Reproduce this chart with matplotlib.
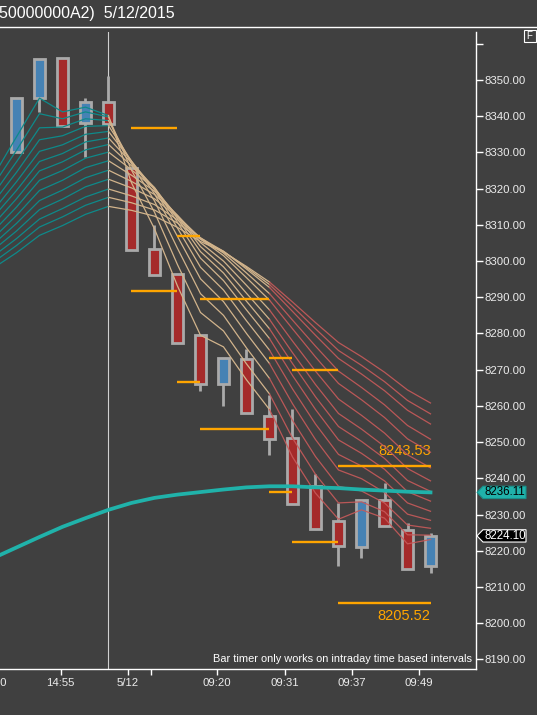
import matplotlib
matplotlib.use('Agg')
import matplotlib.pyplot as plt
import matplotlib.transforms as mtransforms
from matplotlib.patches import Rectangle, Polygon
from matplotlib.lines import Line2D

plt.rcParams['font.family'] = ['Liberation Sans', 'DejaVu Sans']

# ------------------------------------------------------------------------------
# data (bar index 0 = first visible candle)

bars = list(range(19))
opens = [8330.1, 8344.9, 8356.0, 8338.1, 8343.9, 8325.6, 8303.2, 8296.3, 8279.5, 8266.0,
         8272.9, 8257.2, 8251.2, 8237.9, 8228.2, 8221.1, 8233.9, 8225.7, 8215.9]
highs = [8345.1, 8355.7, 8356.0, 8345.0, 8351.1, 8325.6, 8310.0, 8296.3, 8279.5, 8273.1,
         8275.7, 8263.0, 8259.1, 8241.2, 8233.3, 8233.9, 8238.8, 8227.7, 8225.0]
lows = [8330.1, 8341.2, 8337.3, 8328.8, 8337.8, 8303.1, 8296.1, 8277.3, 8264.2, 8260.1,
        8258.0, 8246.4, 8232.8, 8225.9, 8215.8, 8218.1, 8226.7, 8214.9, 8213.9]
closes = [8345.1, 8355.7, 8337.3, 8343.9, 8337.8, 8303.1, 8296.1, 8277.3, 8266.0, 8273.1,
          8258.0, 8250.9, 8232.8, 8225.9, 8221.4, 8233.9, 8226.7, 8214.9, 8224.1]

# slow moving average (thick teal line), bars -1..18
ma_bars = list(range(-1, 19))
ma_vals = [8218.0, 8220.9, 8223.8, 8226.6, 8229.0, 8231.3, 8233.2, 8234.6, 8235.5, 8236.2,
           8236.9, 8237.5, 8237.8, 8237.8, 8237.5, 8237.3, 8236.9, 8236.6, 8236.3, 8236.11]

# ribbon of averages, fast to slow, bars -1..18
ribbon = [
    [8323.5, 8334.3, 8345.0, 8341.2, 8342.5, 8340.2, 8321.6, 8308.9, 8293.1, 8279.5,
     8276.3, 8267.2, 8259.0, 8245.9, 8235.9, 8228.7, 8231.3, 8229.0, 8221.9, 8223.1],
    [8321.0, 8330.6, 8340.7, 8339.3, 8341.2, 8339.8, 8325.1, 8313.5, 8299.0, 8285.8,
     8280.7, 8271.6, 8263.3, 8251.1, 8241.1, 8233.2, 8233.5, 8230.8, 8224.4, 8224.3],
    [8318.5, 8327.4, 8336.8, 8337.0, 8339.3, 8338.8, 8326.9, 8316.6, 8303.5, 8291.0,
     8285.0, 8276.0, 8267.6, 8256.0, 8246.0, 8237.8, 8236.5, 8233.2, 8227.1, 8226.2],
    [8316.3, 8324.5, 8333.5, 8334.6, 8337.2, 8337.4, 8327.6, 8318.6, 8306.8, 8295.1,
     8288.8, 8280.0, 8271.7, 8260.6, 8250.7, 8242.3, 8239.9, 8236.1, 8230.1, 8228.4],
    [8314.1, 8321.9, 8330.3, 8332.1, 8335.0, 8335.8, 8327.6, 8319.7, 8309.1, 8298.3,
     8292.0, 8283.5, 8275.4, 8264.7, 8255.0, 8246.6, 8243.4, 8239.3, 8233.2, 8230.9],
    [8312.2, 8319.5, 8327.5, 8329.7, 8332.9, 8334.0, 8327.1, 8320.2, 8310.7, 8300.8,
     8294.6, 8286.5, 8278.6, 8268.4, 8259.0, 8250.6, 8246.9, 8242.5, 8236.3, 8233.7],
    [8310.2, 8317.2, 8324.9, 8327.4, 8330.7, 8332.2, 8326.3, 8320.3, 8311.7, 8302.6,
     8296.7, 8288.9, 8281.3, 8271.7, 8262.5, 8254.3, 8250.2, 8245.5, 8239.4, 8236.4],
    [8308.3, 8314.9, 8322.3, 8325.0, 8328.4, 8330.1, 8325.2, 8320.0, 8312.3, 8304.0,
     8298.4, 8291.1, 8283.9, 8274.7, 8265.9, 8257.9, 8253.6, 8248.8, 8242.7, 8239.3],
    [8306.4, 8312.6, 8319.5, 8322.3, 8325.8, 8327.7, 8323.7, 8319.3, 8312.6, 8305.1,
     8300.0, 8293.3, 8286.5, 8277.9, 8269.6, 8261.9, 8257.4, 8252.5, 8246.5, 8242.9],
    [8304.7, 8310.4, 8316.7, 8319.6, 8323.0, 8325.1, 8322.0, 8318.4, 8312.6, 8306.1,
     8301.5, 8295.4, 8289.2, 8281.3, 8273.5, 8266.2, 8261.7, 8256.8, 8250.9, 8247.2],
    [8303.1, 8308.3, 8314.2, 8317.1, 8320.5, 8322.6, 8320.2, 8317.2, 8312.2, 8306.4,
     8302.2, 8296.7, 8291.0, 8283.7, 8276.5, 8269.6, 8265.1, 8260.3, 8254.6, 8250.8],
    [8301.4, 8306.2, 8311.6, 8314.5, 8317.7, 8319.9, 8318.0, 8315.6, 8311.4, 8306.4,
     8302.7, 8297.8, 8292.7, 8286.1, 8279.5, 8273.1, 8268.8, 8264.2, 8258.8, 8255.0],
    [8299.7, 8304.3, 8309.4, 8312.2, 8315.4, 8317.6, 8316.1, 8314.1, 8310.5, 8306.0,
     8302.7, 8298.2, 8293.5, 8287.5, 8281.3, 8275.3, 8271.2, 8266.7, 8261.5, 8257.8],
    [8298.1, 8302.3, 8307.1, 8309.8, 8312.9, 8315.1, 8314.0, 8312.4, 8309.3, 8305.4,
     8302.5, 8298.5, 8294.2, 8288.7, 8283.0, 8277.5, 8273.6, 8269.3, 8264.4, 8260.8],
]

# orange levels: from bar, to bar, price
level_start = [5, 5, 7, 7, 8, 8, 11, 11, 12, 12, 14, 14]
level_end = [7, 7, 8, 8, 11, 11, 12, 12, 14, 14, 18, 18]
level_price = [8336.7, 8291.6, 8306.8, 8266.5, 8289.4, 8253.7, 8273.1, 8236.3,
               8269.8, 8222.3, 8243.53, 8205.52]

x_ticks = [1.92, 4.83, 5.83, 8.73, 11.66, 14.57, 17.5]
x_labels = ['14:55', '5/12', '', '09:20', '09:31', '09:37', '09:49']
y_ticks = list(range(8190, 8361, 10))

# ------------------------------------------------------------------------------

BG = '#404040'
TXT = '#ECECEC'

fig = plt.figure(figsize=(5.37, 7.15), dpi=100, facecolor=BG)
ax = fig.add_axes([0, 0.0643, 0.8864, 0.8909], facecolor=BG)
ax.set_xlim(-0.717, 19.978)
ax.set_ylim(8187.33, 8363.25)

# candles
for i in bars:
    o, h, l, c = opens[i], highs[i], lows[i], closes[i]
    ax.plot([i, i], [l, h], color='#AAAAAA', lw=2.0, zorder=2, solid_capstyle='butt')
    fill = '#4682B4' if c >= o else '#A52A2A'
    ax.add_patch(Rectangle((i - 0.23, min(o, c)), 0.46, abs(c - o),
                           facecolor=fill, edgecolor='#AAAAAA', lw=2.0, zorder=3))

# ribbon, coloured by phase
rb = list(range(-1, 19))
for line in ribbon:
    ax.plot(rb[0:6], line[0:6], color='#0E8A8A', lw=0.9, zorder=4)
    ax.plot(rb[5:13], line[5:13], color='#D2B48C', lw=0.9, zorder=4)
    ax.plot(rb[12:20], line[12:20], color='#C85A5A', lw=0.9, alpha=0.9, zorder=4)

# session break
ax.axvline(4, color='#D0D0D0', lw=0.8, zorder=1)

# slow average
ax.plot(ma_bars, ma_vals, color='#20B2AA', lw=2.7, zorder=5)

# levels
for s, e, p in zip(level_start, level_end, level_price):
    ax.plot([s, e], [p, p], color='#FFA500', lw=1.7, zorder=6, solid_capstyle='butt')
ax.annotate('8243.53', (18.01, level_price[10]), xytext=(0, 10.3), textcoords='offset points',
            ha='right', va='center', color='#FFA500', fontsize=10.5)
ax.annotate('8205.52', (18.01, level_price[11]), xytext=(0, -9.6), textcoords='offset points',
            ha='right', va='center', color='#FFA500', fontsize=10.5)

# axes styling
for side in ['left', 'top']:
    ax.spines[side].set_visible(False)
for side in ['right', 'bottom']:
    ax.spines[side].set_color('white')
    ax.spines[side].set_linewidth(1.0)
ax.yaxis.tick_right()
ax.set_yticks(y_ticks)
ax.set_yticklabels(['%.2f' % v if v < 8360 else '' for v in y_ticks])
ax.tick_params(axis='y', colors='white', labelcolor=TXT, length=5, width=1,
               labelsize=8.2, pad=1)
ax.set_xticks(x_ticks)
ax.set_xticklabels(x_labels)
ax.tick_params(axis='x', colors='white', labelcolor=TXT, length=4.3, width=1,
               labelsize=8.2, pad=2)
trans = mtransforms.blended_transform_factory(ax.transData, ax.transAxes)
ax.text(-1.05, -0.0215, '14:50', transform=trans, ha='center', va='center',
        color=TXT, fontsize=8.2, clip_on=False)

ax.text(0.992, 0.0157, 'Bar timer only works on intraday time based intervals',
        transform=ax.transAxes, ha='right', va='center', color='white', fontsize=7.9)

# last value markers on the price axis
mk = mtransforms.blended_transform_factory(fig.transFigure, ax.transData)
def marker(price, face, edge, tcolor):
    h = 1.7
    x0, x1, x2 = 477 / 537, 483 / 537, 526 / 537
    pts = [(x0, price), (x1, price + h), (x2, price + h), (x2, price - h), (x1, price - h)]
    ax.add_patch(Polygon(pts, closed=True, facecolor=face, edgecolor=edge, lw=0.8,
                         transform=mk, clip_on=False, zorder=10))
    ax.text(505 / 537, price, '%.2f' % price, transform=mk, ha='center', va='center',
            color=tcolor, fontsize=8.3, clip_on=False, zorder=11)

marker(ma_vals[-1], '#20B2AA', '#1A8F89', 'black')
marker(closes[-1], 'black', 'white', 'white')

# header
fig.add_artist(Line2D([0, 1], [1 - 27 / 715, 1 - 27 / 715], transform=fig.transFigure,
                      color='white', lw=1.0))
fig.text(-0.002, 1 - 13.5 / 715, '50000000A2)  5/12/2015', ha='left', va='center',
         color='white', fontsize=11.5)
fig.add_artist(Rectangle((523.5 / 537, 1 - 41.5 / 715), 12 / 537, 11.5 / 715,
                         transform=fig.transFigure, facecolor=BG, edgecolor='white', lw=0.8))
fig.text(529.5 / 537, 1 - 35.8 / 715, 'F', ha='center', va='center', color='white',
         fontsize=7)

fig.savefig('out.png', dpi=100, facecolor=BG)
